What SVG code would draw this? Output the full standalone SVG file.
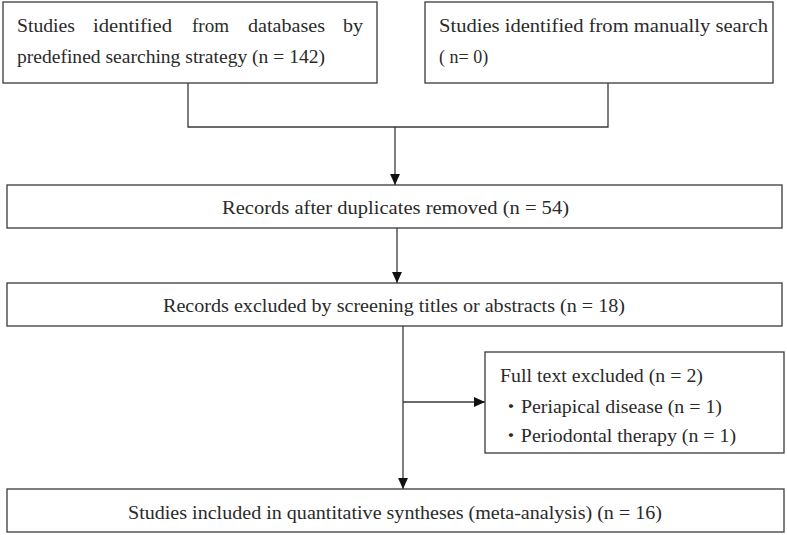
<svg xmlns="http://www.w3.org/2000/svg" width="787" height="535" viewBox="0 0 787 535">
<style>
.box{fill:#fff;stroke:#3a3a3a;stroke-width:1.3}
.t{font-family:"Liberation Serif","Noto Sans CJK JP",serif;font-size:18px;fill:#2a2a2a}
.c{fill:none;stroke:#3a3a3a;stroke-width:1.3}
</style>
<defs>
<marker id="ah" viewBox="0 0 10 10" refX="10" refY="5" markerWidth="11" markerHeight="11" markerUnits="userSpaceOnUse" orient="auto">
<path d="M0,0.5 L10,5 L0,9.5 Z" fill="#111"/>
</marker>
</defs>
<rect width="787" height="535" fill="#fff"/>
<g id="connectors">
<polyline class="c" points="188,83 188,127 608,127 608,83"/>
<line class="c" x1="395" y1="127" x2="395" y2="185" marker-end="url(#ah)"/>
<line class="c" x1="397" y1="228" x2="397" y2="283" marker-end="url(#ah)"/>
<line class="c" x1="403" y1="326" x2="403" y2="489" marker-end="url(#ah)"/>
<line class="c" x1="403" y1="402" x2="485" y2="402" marker-end="url(#ah)"/>
</g>
<g id="n1">
<rect class="box" x="3" y="2" width="374" height="81"/>
<text class="t" y="32"><tspan x="17" textLength="58" lengthAdjust="spacingAndGlyphs">Studies</tspan><tspan x="93" textLength="79" lengthAdjust="spacingAndGlyphs">identified</tspan><tspan x="192" textLength="37" lengthAdjust="spacingAndGlyphs">from</tspan><tspan x="248" textLength="77" lengthAdjust="spacingAndGlyphs">databases</tspan><tspan x="343" textLength="20" lengthAdjust="spacingAndGlyphs">by</tspan></text>
<text class="t" x="17" y="63" textLength="308" lengthAdjust="spacingAndGlyphs">predefined searching strategy (n = 142)</text>
</g>
<g id="n2">
<rect class="box" x="425" y="2" width="348" height="81"/>
<text class="t" x="439" y="32" textLength="329" lengthAdjust="spacingAndGlyphs">Studies identified from manually search</text>
<text class="t" x="439" y="63">( n= 0)</text>
</g>
<g id="n3">
<rect class="box" x="7" y="185" width="775" height="43"/>
<text class="t" x="222" y="214" textLength="347" lengthAdjust="spacingAndGlyphs">Records after duplicates removed (n = 54)</text>
</g>
<g id="n4">
<rect class="box" x="7" y="283" width="775" height="43"/>
<text class="t" x="163" y="312" textLength="462" lengthAdjust="spacingAndGlyphs">Records excluded by screening titles or abstracts (n = 18)</text>
</g>
<g id="n5">
<rect class="box" x="485" y="352" width="299" height="101"/>
<text class="t" x="500" y="382" textLength="203" lengthAdjust="spacingAndGlyphs">Full text excluded (n = 2)</text>
<text class="t" x="501" y="413" textLength="221" lengthAdjust="spacingAndGlyphs">・Periapical disease (n = 1)</text>
<text class="t" x="501" y="442" textLength="235" lengthAdjust="spacingAndGlyphs">・Periodontal therapy (n = 1)</text>
</g>
<g id="n6">
<rect class="box" x="7" y="489" width="777" height="43"/>
<text class="t" x="128" y="519" textLength="534" lengthAdjust="spacingAndGlyphs">Studies included in quantitative syntheses (meta-analysis) (n = 16)</text>
</g>
</svg>
